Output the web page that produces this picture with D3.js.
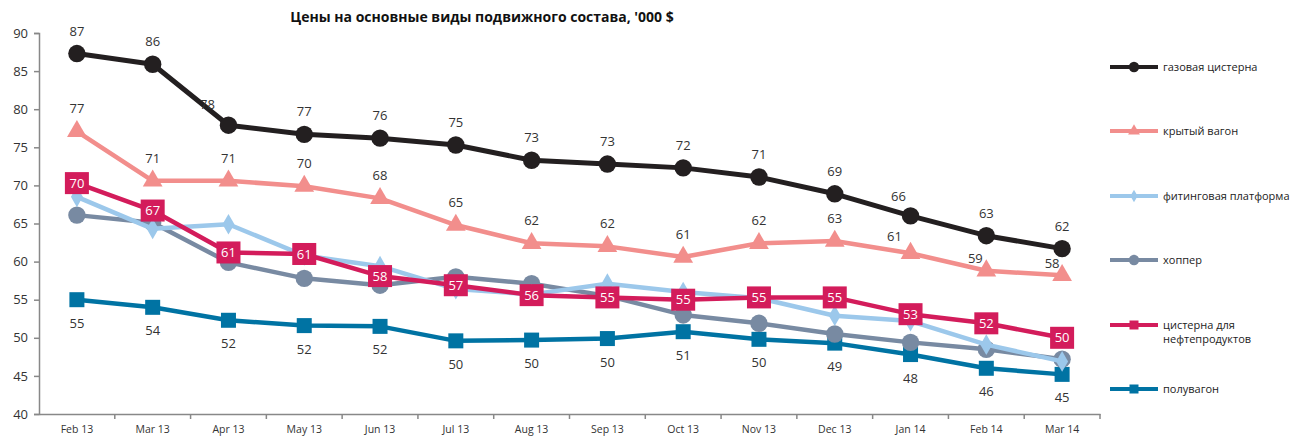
<!DOCTYPE html>
<html>
<head>
<meta charset="utf-8">
<script src="https://cdn.jsdelivr.net/npm/d3@7"></script>
<style>
  body { margin: 0; background: #fff; }
  svg text { font-family: "Open Sans", "Liberation Sans", sans-serif; fill: #333; }
</style>
</head>
<body>
<div id="chart"></div>
<script>
// categories and series
const months = ['Feb 13', 'Mar 13', 'Apr 13', 'May 13', 'Jun 13', 'Jul 13', 'Aug 13',
  'Sep 13', 'Oct 13', 'Nov 13', 'Dec 13', 'Jan 14', 'Feb 14', 'Mar 14'];
const gasTank = [87.3, 85.9, 77.9, 76.7, 76.2, 75.3, 73.3, 72.8, 72.3, 71.1, 68.9, 66.0, 63.4, 61.7];
const coveredWagon = [77.1, 70.6, 70.6, 69.9, 68.3, 64.8, 62.4, 62.0, 60.6, 62.4, 62.7, 61.1, 58.8, 58.2];
const flatcar = [68.5, 64.3, 64.9, 60.8, 59.4, 56.4, 55.7, 57.1, 56.0, 55.2, 52.9, 52.2, 49.1, 46.9];
const hopper = [66.1, 65.1, 59.9, 57.8, 56.9, 58.0, 57.1, 55.5, 53.0, 51.9, 50.5, 49.4, 48.5, 47.2];
const oilTank = [70.3, 66.7, 61.2, 61.0, 58.1, 56.9, 55.6, 55.3, 55.0, 55.3, 55.3, 53.1, 51.9, 50.0];
const gondola = [55.0, 54.0, 52.3, 51.6, 51.5, 49.6, 49.7, 49.9, 50.8, 49.8, 49.3, 47.8, 46.0, 45.2];
const yTicks = [40, 45, 50, 55, 60, 65, 70, 75, 80, 85, 90];

const series = [
  {name: ['газовая цистерна'], values: gasTank, color: '#231f20', marker: 'circle', label: 'above', width: 5},
  {name: ['крытый вагон'], values: coveredWagon, color: '#f28e8c', marker: 'triangle', label: 'above', width: 4.5},
  {name: ['фитинговая платформа'], values: flatcar, color: '#9cc8eb', marker: 'diamond', label: 'none', width: 4.5},
  {name: ['хоппер'], values: hopper, color: '#788aa2', marker: 'circle', label: 'none', width: 4.5},
  {name: ['цистерна для', 'нефтепродуктов'], values: oilTank, color: '#d31c5b', marker: 'square', label: 'box', width: 4.5},
  {name: ['полувагон'], values: gondola, color: '#0073a3', marker: 'square', label: 'below', width: 4.5}
];

const W = 1296, H = 441;
const margin = {top: 33, right: 196, bottom: 27, left: 39};
const width = W - margin.left - margin.right;
const height = H - margin.top - margin.bottom;

const svg = d3.select('#chart').append('svg')
  .attr('width', W)
  .attr('height', H);

const g = svg.append('g')
  .attr('transform', `translate(${margin.left},${margin.top})`);

const x = d3.scaleBand().domain(months).range([0, width]);
const y = d3.scaleLinear().domain([40, 90]).range([height, 0]);
const cx = d => x(d) + x.bandwidth() / 2;

// title
svg.append('text')
  .attr('x', 482)
  .attr('y', 22)
  .attr('text-anchor', 'middle')
  .style('font-size', '14px')
  .style('font-weight', 'bold')
  .style('fill', '#111')
  .text("Цены на основные виды подвижного состава, '000 $");

// y axis
const yAxis = g.append('g')
  .call(d3.axisLeft(y).tickValues(yTicks).tickSize(5).tickPadding(6));
yAxis.selectAll('text').style('font-size', '13px').style('fill', '#333');

// x axis, ticks at band boundaries
const xAxis = g.append('g')
  .attr('transform', `translate(0,${height})`)
  .call(d3.axisBottom(x).tickSize(0).tickPadding(12));
xAxis.selectAll('text').style('font-size', '10.5px').style('fill', '#333');
xAxis.selectAll('.tick').append('line')
  .attr('x1', x.bandwidth() / 2).attr('x2', x.bandwidth() / 2)
  .attr('y1', 0).attr('y2', 5);
g.selectAll('.domain, .tick line').attr('stroke', '#888').attr('stroke-width', 1.5);

const line = d3.line()
  .x((d, i) => cx(months[i]))
  .y(d => y(d));

function drawMarker(sel, type, color, size) {
  if (type === 'circle') {
    sel.append('circle').attr('r', size * 0.58).attr('fill', color);
  } else if (type === 'square') {
    sel.append('rect').attr('x', -size / 2).attr('y', -size / 2)
      .attr('width', size).attr('height', size).attr('fill', color);
  } else if (type === 'triangle') {
    sel.append('path').attr('d', d3.symbol(d3.symbolTriangle, size * size * 0.75)()).attr('fill', color);
  } else if (type === 'diamond') {
    sel.append('path').attr('d', d3.symbol(d3.symbolDiamond, size * size * 0.55)()).attr('fill', color);
  }
}

// draw series bottom first so the top ones overlap like the original
const order = [5, 3, 2, 4, 1, 0];
order.forEach(k => {
  const s = series[k];
  g.append('path')
    .datum(s.values)
    .attr('fill', 'none')
    .attr('stroke', s.color)
    .attr('stroke-width', s.width)
    .attr('stroke-linejoin', 'round')
    .attr('d', line);

  s.values.forEach((v, i) => {
    const m = g.append('g').attr('transform', `translate(${cx(months[i])},${y(v)})`);
    if (s.label === 'box') {
      m.append('rect').attr('x', -12).attr('y', -11).attr('width', 24).attr('height', 22)
        .attr('fill', s.color);
      m.append('text').attr('text-anchor', 'middle').attr('dy', '0.36em')
        .style('font-size', '13px').style('fill', '#fff').text(Math.round(v));
    } else {
      drawMarker(m, s.marker, s.color, 15);
    }
  });
});

// a few labels were nudged by hand in the original chart
const nudges = {
  '0-2': [-21, 2], '0-11': [-12, 3],
  '1-11': [-16, 6], '1-12': [-11, 10], '1-13': [-10, 11]
};

// data labels for black, pink and teal
series.forEach((s, k) => {
  if (s.label !== 'above' && s.label !== 'below') return;
  g.selectAll(null)
    .data(s.values)
    .enter().append('text')
    .attr('x', (d, i) => cx(months[i]) + (nudges[k + '-' + i] || [0, 0])[0])
    .attr('y', (d, i) => (s.label === 'above' ? y(d) - 18 : y(d) + 28) + (nudges[k + '-' + i] || [0, 0])[1])
    .attr('text-anchor', 'middle')
    .style('font-size', '13px')
    .style('fill', '#333')
    .text(d => Math.round(d));
});

// legend
const legendY = [67, 131, 196, 260, 325, 389];
const legend = svg.append('g').attr('transform', 'translate(1110,0)');
series.forEach((s, k) => {
  const item = legend.append('g').attr('transform', `translate(0,${legendY[k]})`);
  item.append('line').attr('x1', 0).attr('x2', 48).attr('stroke', s.color).attr('stroke-width', 4);
  const mk = item.append('g').attr('transform', 'translate(24,0)');
  drawMarker(mk, s.marker, s.color, 9);
  s.name.forEach((t, j) => {
    item.append('text').attr('x', 53).attr('y', j * 14.5).attr('dy', '0.35em')
      .style('font-size', '11px').style('fill', '#222').text(t);
  });
});
</script>
</body>
</html>
